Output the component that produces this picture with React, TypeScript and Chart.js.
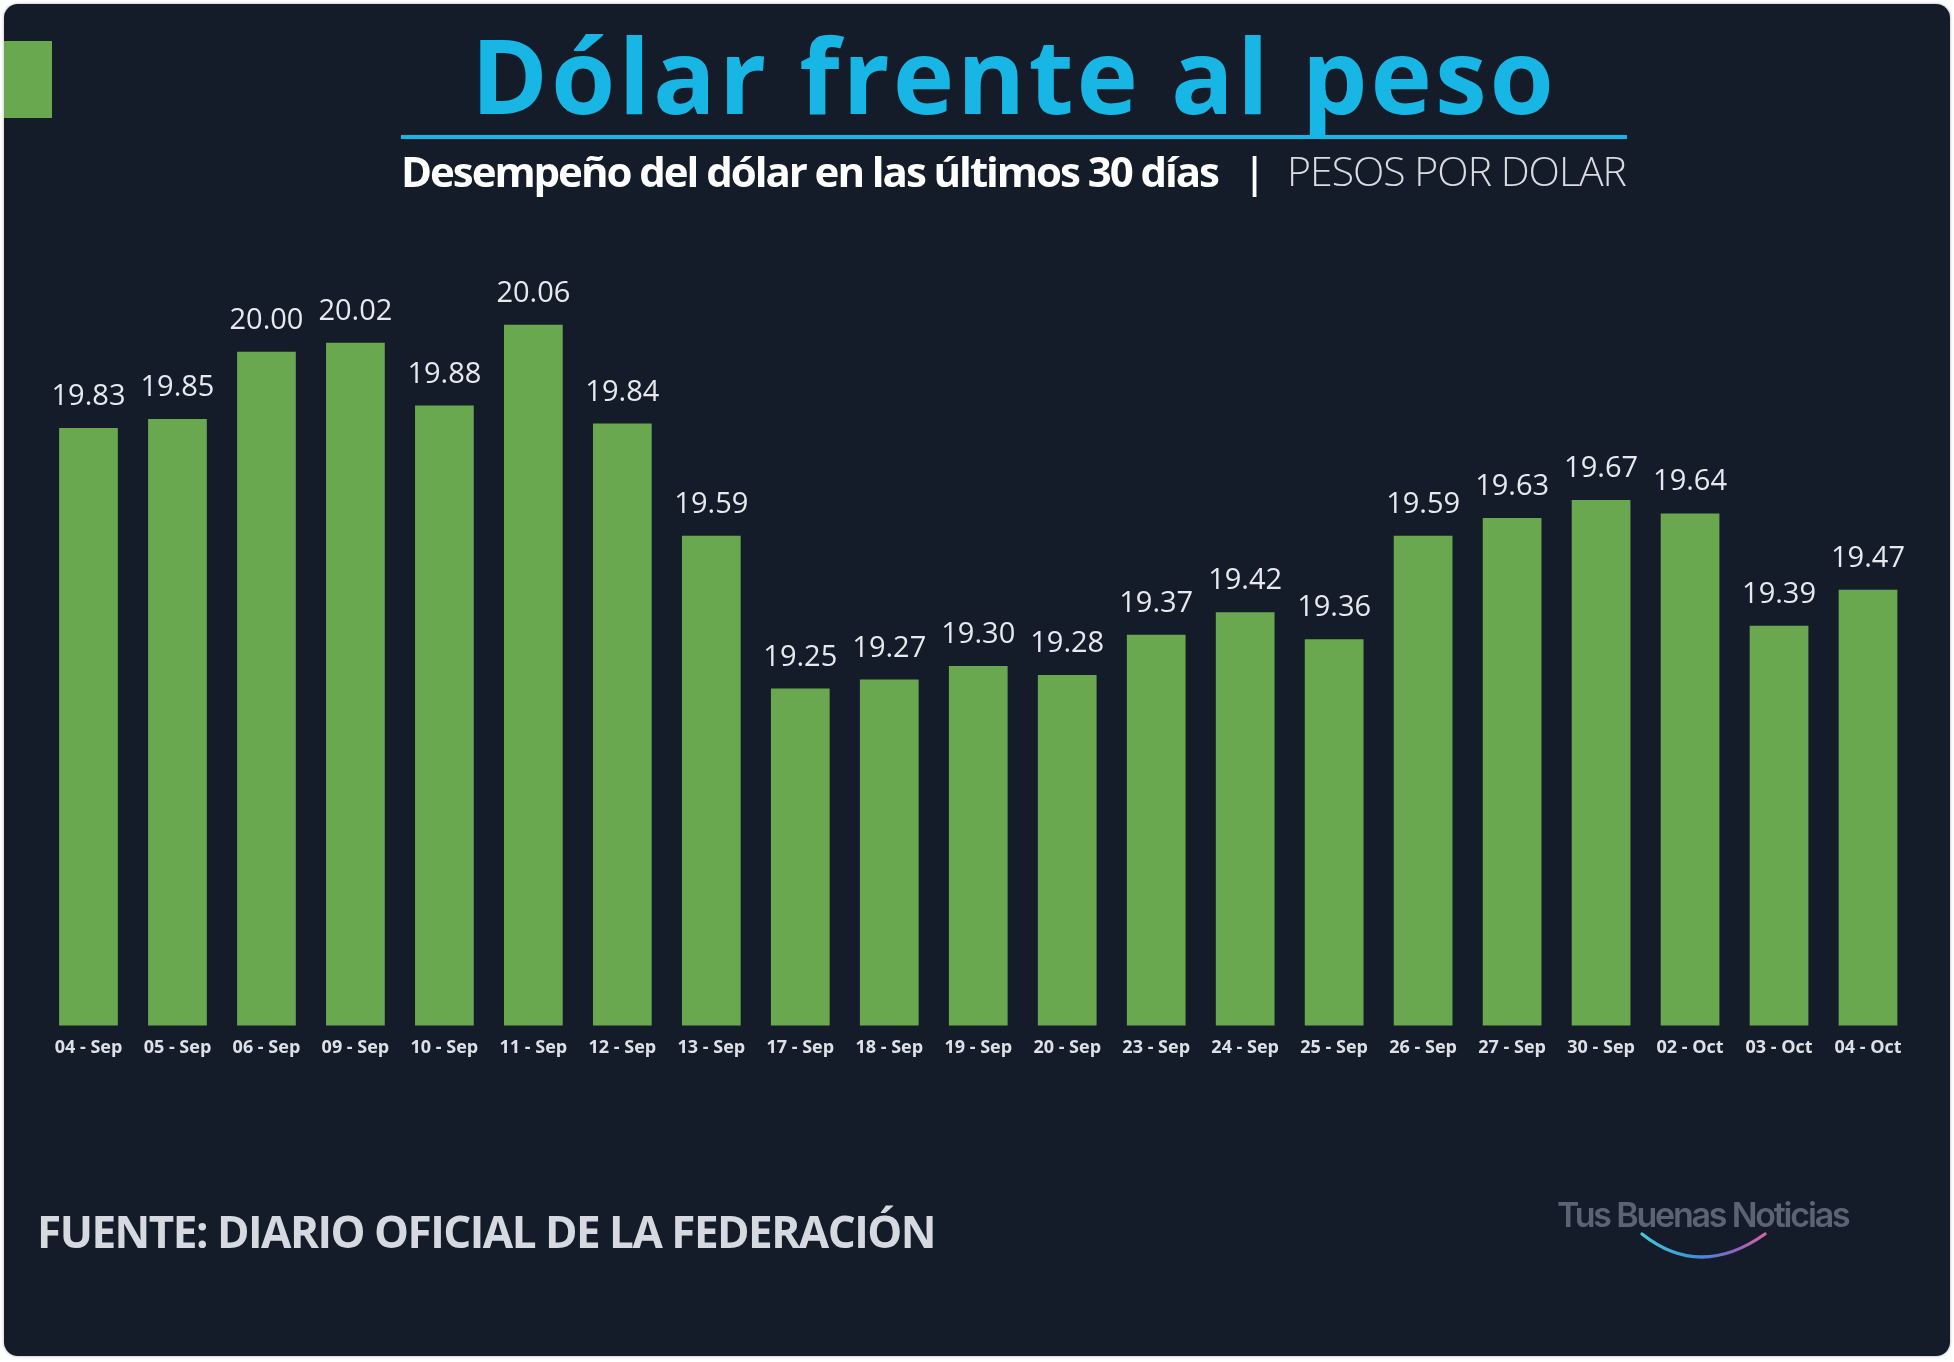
import React, { useEffect, useRef } from "react";
import { Chart, registerables } from "chart.js";

Chart.register(...registerables);

const DATES = [
  "04 - Sep", "05 - Sep", "06 - Sep", "09 - Sep", "10 - Sep", "11 - Sep", "12 - Sep",
  "13 - Sep", "17 - Sep", "18 - Sep", "19 - Sep", "20 - Sep", "23 - Sep", "24 - Sep",
  "25 - Sep", "26 - Sep", "27 - Sep", "30 - Sep", "02 - Oct", "03 - Oct", "04 - Oct",
];
const PESOS_POR_DOLAR = [
  19.83, 19.85, 20.0, 20.02, 19.88, 20.06, 19.84,
  19.59, 19.25, 19.27, 19.3, 19.28, 19.37, 19.42,
  19.36, 19.59, 19.63, 19.67, 19.64, 19.39, 19.47,
];
const Y_MIN = 18.5;
const Y_MAX = 20.3;

const TITLE = "Dólar frente al peso";
const SUBTITLE_BOLD = "Desempeño del dólar en las últimos 30 días";
const SUBTITLE_LIGHT = "PESOS POR DOLAR";
const SOURCE = "FUENTE: DIARIO OFICIAL DE LA FEDERACIÓN";
const LOGO = "Tus Buenas Noticias";

const BG = "#141c2a";
const GREEN = "#6aa84f";
const CYAN = "#17b6e4";

const valueLabels = {
  id: "valueLabels",
  afterDatasetsDraw(chart: any) {
    const ctx = chart.ctx;
    const meta = chart.getDatasetMeta(0);
    const values = chart.data.datasets[0].data as number[];
    ctx.save();
    ctx.font = '400 29px "Open Sans"';
    ctx.fillStyle = "#e6e9ee";
    ctx.textAlign = "center";
    ctx.textBaseline = "alphabetic";
    meta.data.forEach((bar: any, i: number) => {
      ctx.fillText(values[i].toFixed(2), bar.x, bar.y - 23);
    });
    ctx.restore();
  },
};

export default function App() {
  const canvasRef = useRef<HTMLCanvasElement | null>(null);

  useEffect(() => {
    if (!canvasRef.current) return;
    const chart = new Chart(canvasRef.current, {
      type: "bar",
      data: {
        labels: DATES,
        datasets: [
          {
            data: PESOS_POR_DOLAR,
            backgroundColor: GREEN,
            borderWidth: 0,
            categoryPercentage: 1,
            barPercentage: 0.66,
          },
        ],
      },
      options: {
        responsive: false,
        animation: false,
        devicePixelRatio: 1,
        layout: { padding: { left: 44, right: 41.5, top: 216.9, bottom: 291.5 } },
        plugins: {
          legend: { display: false },
          tooltip: { enabled: false },
          title: { display: false },
        },
        scales: {
          x: {
            grid: { display: false, drawTicks: false },
            border: { display: false },
            ticks: {
              color: "#dde1e7",
              font: { family: "Open Sans", weight: "700", size: 18 },
              padding: 12,
              maxRotation: 0,
              autoSkip: false,
            },
            afterFit: (s: any) => {
              s.height = 45;
            },
          },
          y: { display: false, min: Y_MIN, max: Y_MAX },
        },
      },
      plugins: [valueLabels],
    } as any);
    return () => chart.destroy();
  }, []);

  const abs: React.CSSProperties = { position: "absolute", whiteSpace: "nowrap", lineHeight: 1, margin: 0 };

  return (
    <div style={{ position: "absolute", left: 0, top: 0, width: 1954, height: 1362, background: "#ffffff", overflow: "hidden" }}>
      <div
        style={{
          position: "absolute",
          left: 4,
          top: 4,
          width: 1946,
          height: 1352,
          background: BG,
          borderRadius: 14,
          boxShadow: "0 0 3px rgba(0,0,0,0.35)",
        }}
      />
      <div style={{ position: "absolute", left: 4, top: 41, width: 48, height: 77, background: GREEN }} />
      <canvas ref={canvasRef} width={1954} height={1362} style={{ position: "absolute", left: 0, top: 0, width: 1954, height: 1362 }} />
      <div
        style={{
          ...abs,
          left: 471,
          top: 22,
          fontFamily: '"Open Sans"',
          fontWeight: 700,
          fontSize: 104,
          letterSpacing: 3,
          color: CYAN,
        }}
      >
        {TITLE}
      </div>
      <div style={{ position: "absolute", left: 401, top: 135, width: 1226, height: 4, background: CYAN }} />
      <div
        style={{
          ...abs,
          left: 401,
          top: 150,
          fontFamily: '"Open Sans"',
          fontWeight: 700,
          fontSize: 42,
          letterSpacing: -2.05,
          color: "#ffffff",
        }}
      >
        {SUBTITLE_BOLD}
      </div>
      <div
        style={{
          ...abs,
          left: 1243,
          top: 150,
          fontFamily: '"Open Sans"',
          fontWeight: 600,
          fontSize: 42,
          color: "#ffffff",
        }}
      >
        |
      </div>
      <div
        style={{
          ...abs,
          left: 1287,
          top: 150,
          fontFamily: '"Open Sans"',
          fontWeight: 300,
          fontSize: 41,
          letterSpacing: -1.0,
          color: "#d8dbe0",
        }}
      >
        {SUBTITLE_LIGHT}
      </div>
      <div
        style={{
          ...abs,
          left: 37,
          top: 1209,
          fontFamily: '"Open Sans"',
          fontWeight: 700,
          fontSize: 44,
          letterSpacing: -1.5,
          color: "#d6dae0",
        }}
      >
        {SOURCE}
      </div>
      <div
        style={{
          ...abs,
          left: 1557,
          top: 1198,
          fontFamily: "Inter",
          fontWeight: 600,
          fontSize: 34,
          letterSpacing: -2.2,
          color: "#5c6473",
        }}
      >
        {LOGO}
      </div>
      <svg style={{ position: "absolute", left: 1630, top: 1225, width: 150, height: 45 }} viewBox="0 0 150 45">
        <defs>
          <linearGradient id="arcGrad" x1="0" y1="0" x2="1" y2="0">
            <stop offset="0" stopColor="#43c9d6" />
            <stop offset="0.45" stopColor="#3f8fd6" />
            <stop offset="0.75" stopColor="#8a62c4" />
            <stop offset="1" stopColor="#d565a4" />
          </linearGradient>
        </defs>
        <path d="M 12 9 Q 70 55 135 9" fill="none" stroke="url(#arcGrad)" strokeWidth={3.2} strokeLinecap="round" />
      </svg>
    </div>
  );
}
